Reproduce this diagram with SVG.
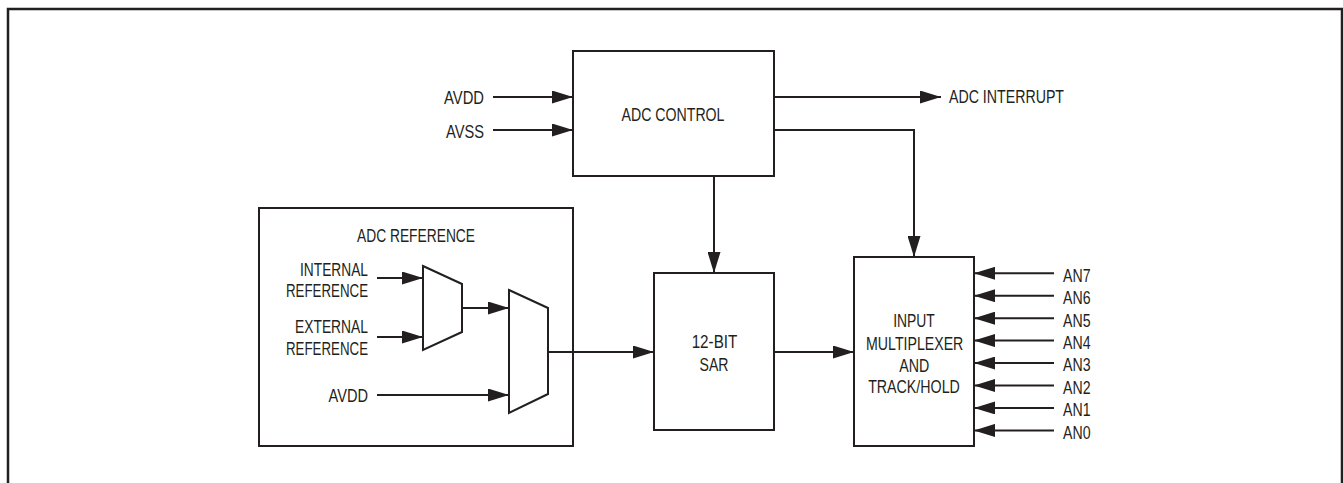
<svg xmlns="http://www.w3.org/2000/svg" width="1343" height="483" viewBox="0 0 1343 483">
<style>
  .box { fill: #ffffff; stroke: #231f20; stroke-width: 2; }
  .wire { fill: none; stroke: #231f20; stroke-width: 2; }
  .t { font-family: "Liberation Sans", Arial, sans-serif; font-size: 19px; fill: #231f20; }
  .m { text-anchor: middle; }
  .e { text-anchor: end; }
</style>
<defs>
  <marker id="arr" markerUnits="userSpaceOnUse" markerWidth="22" markerHeight="13" refX="21" refY="6.5" orient="auto" viewBox="0 0 22 13">
    <path d="M0,0 L21,6.5 L0,13 Z" fill="#231f20"/>
  </marker>
</defs>
<rect x="0" y="0" width="1343" height="483" fill="#ffffff"/>
<path d="M8,483 V9 H1342 V483" fill="none" stroke="#231f20" stroke-width="2.5"/>

<g id="adc-control">
  <rect class="box" x="573" y="51" width="201" height="125"/>
  <text class="t m" x="673" y="121" textLength="103" lengthAdjust="spacingAndGlyphs">ADC CONTROL</text>
</g>

<g id="adc-reference">
  <rect class="box" x="259" y="208" width="314" height="238"/>
  <text class="t m" x="416" y="241.5" textLength="118" lengthAdjust="spacingAndGlyphs">ADC REFERENCE</text>
</g>

<g id="mux-ref-1">
  <polygon class="box" points="423,266 462,284 462,332 423,350"/>
</g>
<g id="mux-ref-2">
  <polygon class="box" points="509,290 548,308 548,394 509,413"/>
</g>

<g id="sar">
  <rect class="box" x="654" y="273" width="120" height="157"/>
  <text class="t m" x="714.5" y="348.3" textLength="45.7" lengthAdjust="spacingAndGlyphs">12-BIT</text>
  <text class="t m" x="714" y="370.7" textLength="29" lengthAdjust="spacingAndGlyphs">SAR</text>
</g>

<g id="input-mux">
  <rect class="box" x="854" y="257" width="120" height="189"/>
  <text class="t m" x="914" y="326.7" textLength="41.7" lengthAdjust="spacingAndGlyphs">INPUT</text>
  <text class="t m" x="914.7" y="350" textLength="97.3" lengthAdjust="spacingAndGlyphs">MULTIPLEXER</text>
  <text class="t m" x="914.3" y="371.7" textLength="30" lengthAdjust="spacingAndGlyphs">AND</text>
  <text class="t m" x="914" y="392.5" textLength="91.7" lengthAdjust="spacingAndGlyphs">TRACK/HOLD</text>
</g>

<g id="labels">
  <text class="t e" x="484" y="104.3" textLength="40" lengthAdjust="spacingAndGlyphs">AVDD</text>
  <text class="t e" x="484" y="137.6" textLength="38" lengthAdjust="spacingAndGlyphs">AVSS</text>
  <text class="t" x="949" y="103.4" textLength="115" lengthAdjust="spacingAndGlyphs">ADC INTERRUPT</text>
  <text class="t e" x="368" y="276" textLength="68" lengthAdjust="spacingAndGlyphs">INTERNAL</text>
  <text class="t e" x="368" y="296.5" textLength="82" lengthAdjust="spacingAndGlyphs">REFERENCE</text>
  <text class="t e" x="368" y="333.3" textLength="73" lengthAdjust="spacingAndGlyphs">EXTERNAL</text>
  <text class="t e" x="368" y="355" textLength="82" lengthAdjust="spacingAndGlyphs">REFERENCE</text>
  <text class="t e" x="368" y="401.7" textLength="39.5" lengthAdjust="spacingAndGlyphs">AVDD</text>
  <text class="t" x="1063" y="281.6" textLength="27.5" lengthAdjust="spacingAndGlyphs">AN7</text>
  <text class="t" x="1063" y="304" textLength="27.5" lengthAdjust="spacingAndGlyphs">AN6</text>
  <text class="t" x="1063" y="326.5" textLength="27.5" lengthAdjust="spacingAndGlyphs">AN5</text>
  <text class="t" x="1063" y="348.9" textLength="27.5" lengthAdjust="spacingAndGlyphs">AN4</text>
  <text class="t" x="1063" y="371.4" textLength="27.5" lengthAdjust="spacingAndGlyphs">AN3</text>
  <text class="t" x="1063" y="393.8" textLength="27.5" lengthAdjust="spacingAndGlyphs">AN2</text>
  <text class="t" x="1063" y="416.2" textLength="27.5" lengthAdjust="spacingAndGlyphs">AN1</text>
  <text class="t" x="1063" y="438.7" textLength="27.5" lengthAdjust="spacingAndGlyphs">AN0</text>
</g>

<g id="connectors">
  <line class="wire" x1="493" y1="97" x2="573" y2="97" marker-end="url(#arr)"/>
  <line class="wire" x1="493" y1="130" x2="573" y2="130" marker-end="url(#arr)"/>
  <line class="wire" x1="774" y1="97" x2="941" y2="97" marker-end="url(#arr)"/>
  <polyline class="wire" points="774,130 914,130 914,257" marker-end="url(#arr)"/>
  <line class="wire" x1="714" y1="176" x2="714" y2="273" marker-end="url(#arr)"/>
  <line class="wire" x1="377" y1="278" x2="423" y2="278" marker-end="url(#arr)"/>
  <line class="wire" x1="377" y1="337" x2="423" y2="337" marker-end="url(#arr)"/>
  <line class="wire" x1="462" y1="308" x2="509" y2="308" marker-end="url(#arr)"/>
  <line class="wire" x1="377" y1="395" x2="509" y2="395" marker-end="url(#arr)"/>
  <line class="wire" x1="548" y1="352" x2="654" y2="352" marker-end="url(#arr)"/>
  <line class="wire" x1="774" y1="352" x2="854" y2="352" marker-end="url(#arr)"/>
  <line class="wire" x1="1054" y1="273.3" x2="974" y2="273.3" marker-end="url(#arr)"/>
  <line class="wire" x1="1054" y1="295.7" x2="974" y2="295.7" marker-end="url(#arr)"/>
  <line class="wire" x1="1054" y1="318.2" x2="974" y2="318.2" marker-end="url(#arr)"/>
  <line class="wire" x1="1054" y1="340.6" x2="974" y2="340.6" marker-end="url(#arr)"/>
  <line class="wire" x1="1054" y1="363.1" x2="974" y2="363.1" marker-end="url(#arr)"/>
  <line class="wire" x1="1054" y1="385.5" x2="974" y2="385.5" marker-end="url(#arr)"/>
  <line class="wire" x1="1054" y1="407.9" x2="974" y2="407.9" marker-end="url(#arr)"/>
  <line class="wire" x1="1054" y1="430.4" x2="974" y2="430.4" marker-end="url(#arr)"/>
</g>
</svg>
